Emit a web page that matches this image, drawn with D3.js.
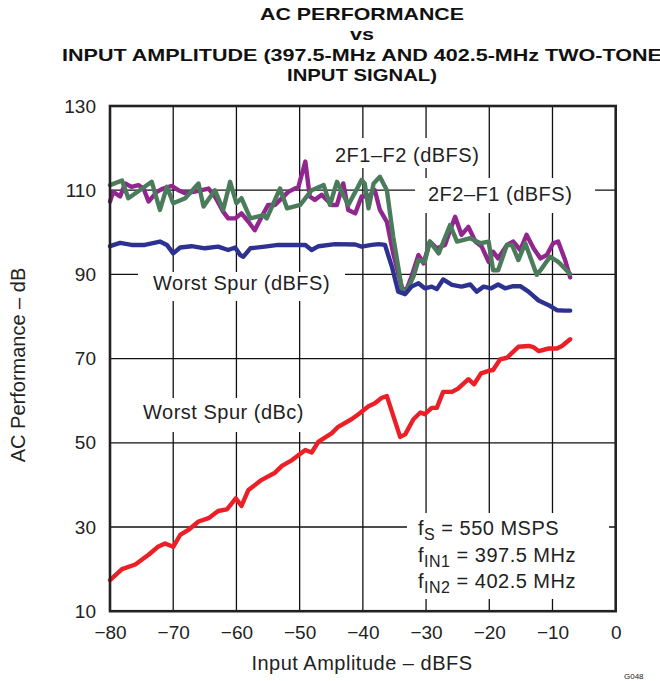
<!DOCTYPE html>
<html><head><meta charset="utf-8">
<script src="https://cdn.jsdelivr.net/npm/d3@7"></script>
<style>
body{margin:0;background:#fff;}
svg{display:block;font-family:"Liberation Sans",Arial,Helvetica,sans-serif;}
</style></head>
<body>
<svg id="c" width="660" height="681"></svg>
<script>
// ---- data ----
const xTicks = [-80,-70,-60,-50,-40,-30,-20,-10,0];
const yTicks = [10,30,50,70,90,110,130];

const spurDbcX = [-80,-78.1,-76,-73.9,-72.4,-71.3,-70,-68.9,-67.6,-66,-64.4,-62.9,-61.5,-60.1,-59.2,-58.1,-56,-53.9,-52.8,-51.2,-49.1,-48.1,-47,-44.9,-43.9,-41.8,-40.7,-39.1,-38.1,-37,-36.2,-34.1,-33.3,-32,-30.9,-30.2,-29.1,-28.3,-27.3,-25.9,-24.9,-23.3,-22.4,-21.3,-20.1,-19.4,-18.3,-17.2,-15.4,-13.8,-13.0,-12.2,-10.6,-9.3,-8.5,-7.2];
const spurDbcY = [17.4,20.0,21.1,23.4,25.3,26.1,25.3,28.1,29.3,31.3,32.1,33.8,34.2,36.8,35.0,38.8,41.2,42.9,44.5,45.9,48.3,47.7,50.3,52.3,53.8,55.6,56.8,58.7,59.4,60.7,61.1,51.4,52.0,55.6,57.2,56.8,58.3,58.3,62.1,62.1,62.9,65.1,63.9,66.5,67.1,67.3,69.8,70.2,72.8,73.0,72.7,71.8,72.4,72.4,73.0,74.6];

const spurDbfsX = [-80,-78.4,-76.6,-74.5,-72.1,-71,-70,-68.9,-67.1,-65,-62.9,-61.3,-60.2,-59.4,-58.9,-57.8,-55.5,-53.4,-51,-49.1,-48.1,-47,-44.4,-41.2,-40.2,-38.6,-37.5,-36.5,-35.4,-34.4,-33.3,-32.3,-31.2,-30.2,-29.1,-28.3,-27.3,-25.9,-24.4,-23.0,-22.0,-20.9,-19.7,-18.6,-17.5,-16.2,-15.1,-13.8,-12.2,-10.6,-9.3,-8,-7.2];
const spurDbfsY = [96.7,97.5,97.0,97.0,97.8,97.0,95.0,96.4,96.7,96.2,96.6,95.8,96.4,94.6,94.2,96.2,96.6,97.0,97.0,97.0,95.8,96.7,97.2,97.1,96.6,97.0,97.2,97.0,91.8,85.9,85.3,87.1,87.9,86.7,87.1,86.5,88.8,87.5,87.1,87.6,85.9,87.1,86.7,87.6,86.7,87.2,87.2,85.9,83.8,82.7,81.5,81.4,81.4];

const imd2f1X = [-80,-79.5,-78.4,-77.6,-76.6,-75.5,-74.7,-73.9,-72.6,-71.6,-70.2,-69.2,-68.1,-66.8,-65.5,-64.4,-63.4,-62.1,-61.3,-60.2,-59.2,-58.1,-57.1,-56,-55,-53.9,-52.8,-51.8,-50.2,-49.1,-48.4,-47.6,-46.5,-44.9,-44.1,-43.1,-42.3,-41.2,-40.2,-39.1,-38.1,-37.3,-36.2,-35.2,-33.8,-33.1,-32.3,-31.2,-30.4,-29.4,-28.3,-27,-26.2,-25.4,-24.4,-23.3,-22.2,-21.2,-20.1,-19.4,-18.6,-17.2,-16.2,-15.1,-14.1,-13,-11.9,-10.9,-9.9,-9.1,-8,-7.2];
const imd2f1Y = [107.3,109.6,108.5,111.6,110.8,111.2,110.4,107.3,109.6,110.4,111.0,110.0,109.3,109.6,110.0,110.4,108.5,104.9,103.3,103.3,104.5,102.5,100.5,103.7,106.5,106.5,108.1,109.6,110.8,116.8,108.5,107.7,108.9,106.5,106.5,111.6,105.3,104.5,108.5,108.5,110.0,105.3,102.5,95.0,86.7,86.3,89.5,94.6,92.6,97.8,96.2,97.0,100.5,103.7,99.4,101.3,97.8,96.6,93.0,95.4,93.8,97.0,97.8,95.8,99.4,96.2,93.8,94.6,97.4,97.8,93.4,89.3];

const imd2f2X = [-80,-78.1,-77.1,-75.3,-73.4,-72.1,-71,-70,-68.1,-66,-65.2,-63.4,-62.1,-61,-60,-59.2,-57.8,-55.7,-55.2,-53.1,-52,-49.9,-48.1,-46.2,-45.2,-44.1,-42.3,-40.2,-39.7,-39.1,-38.3,-37.3,-36.2,-35.2,-33.8,-33.1,-32,-31.2,-30.2,-29.4,-28,-26.2,-25.1,-23.0,-21.4,-20.1,-19.4,-18.6,-17.2,-16.4,-15.4,-14.3,-12.5,-11.7,-10.4,-9.1,-7.2];
const imd2f2Y = [111.2,112.3,108.1,110.0,112.0,105.3,110.8,106.9,108.1,111.6,106.1,110.0,105.3,112.0,106.9,108.1,103.3,104.1,103.3,110.4,105.7,106.5,110.0,111.2,106.5,112.0,106.5,112.4,111.6,105.7,111.6,113.2,110.0,99.0,86.3,85.9,89.5,93.4,93.0,97.8,95.0,101.7,97.8,98.6,97.4,97.8,91.0,91.0,97.0,97.0,93.4,97.4,89.9,91.4,94.2,93.0,90.1];

const titleLines = ["AC PERFORMANCE","vs","INPUT AMPLITUDE (397.5-MHz AND 402.5-MHz TWO-TONE","INPUT SIGNAL)"];

// ---- drawing ----
const svg = d3.select("#c");
const L = 110, R = 615.7, T = 106, B = 611.2;
const x = d3.scaleLinear().domain([-80,0]).range([L,R]);
const y = d3.scaleLinear().domain([10,130]).range([B,T]);

// title (one text block, four lines)
const titleY = [19.5, 39.5, 61, 80.5];
const titleW = [204, 24, 600, 150];
const title = svg.append("text").attr("text-anchor","middle")
  .attr("font-weight","bold").attr("font-size",17).attr("fill","#111");
titleLines.forEach((t,i)=>{
  title.append("tspan").attr("x",362).attr("y",titleY[i])
    .attr("textLength",titleW[i]).attr("lengthAdjust","spacingAndGlyphs").text(t);
});

// grid
const grid = svg.append("g").attr("stroke","#111").attr("stroke-width",1.3);
grid.selectAll("line.v").data(xTicks.slice(1,-1)).join("line")
  .attr("x1",d=>x(d)).attr("x2",d=>x(d)).attr("y1",T).attr("y2",B);
grid.selectAll("line.h").data(yTicks.slice(1,-1)).join("line")
  .attr("y1",d=>y(d)).attr("y2",d=>y(d)).attr("x1",L).attr("x2",R);

// label backgrounds (white knock-outs)
const boxes = [[138,272,345,301],[133,398,313,432],[328,138,486,168],[415,178,595,213],[407,513,609,599]];
svg.append("g").selectAll("rect").data(boxes).join("rect")
  .attr("x",d=>d[0]).attr("y",d=>d[1]).attr("width",d=>d[2]-d[0]).attr("height",d=>d[3]-d[1])
  .attr("fill","#fff");

// tick labels via d3 axes
const fmt = d=>d3.format("")(d);
const xa = svg.append("g").attr("transform",`translate(0,${B})`)
  .call(d3.axisBottom(x).tickValues(xTicks).tickSize(0).tickPadding(14).tickFormat(fmt));
const ya = svg.append("g").attr("transform",`translate(${L},0)`)
  .call(d3.axisLeft(y).tickValues(yTicks).tickSize(0).tickPadding(14).tickFormat(fmt));
[xa,ya].forEach(a=>{
  a.select(".domain").remove();
  a.selectAll("text").attr("font-size",19).attr("fill","#222").attr("font-family","'Liberation Sans',Arial,sans-serif");
});

svg.append("text").attr("x",362).attr("y",670).attr("text-anchor","middle")
  .attr("font-size",20).attr("letter-spacing",0.5).attr("fill","#222").text("Input Amplitude – dBFS");
svg.append("text").attr("transform","translate(25,365) rotate(-90)").attr("text-anchor","middle")
  .attr("font-size",20).attr("fill","#222").text("AC Performance – dB");

// series labels
const lab = [["2F1–F2 (dBFS)",335,162],["2F2–F1 (dBFS)",428,201],["Worst Spur (dBFS)",153,290],["Worst Spur (dBc)",143,419]];
svg.append("g").selectAll("text").data(lab).join("text")
  .attr("x",d=>d[1]).attr("y",d=>d[2]).attr("font-size",20).attr("letter-spacing",0.5)
  .attr("fill","#222").text(d=>d[0]);

// conditions
const cond = [["f","S"," = 550 MSPS",535],["f","IN1"," = 397.5 MHz",562],["f","IN2"," = 402.5 MHz",588]];
cond.forEach(c=>{
  const t = svg.append("text").attr("x",418).attr("y",c[3]).attr("font-size",20)
    .attr("letter-spacing",0.5).attr("fill","#222");
  t.append("tspan").text(c[0]);
  t.append("tspan").attr("dy",5).attr("font-size",16).text(c[1]);
  t.append("tspan").attr("dy",-5).text(c[2]);
});

// lines
const line = d3.line().x(d=>x(d[0])).y(d=>y(d[1]));
const series = [
  [d3.zip(imd2f1X, imd2f1Y), "#91268f"],
  [d3.zip(imd2f2X, imd2f2Y), "#4a7c5c"],
  [d3.zip(spurDbfsX, spurDbfsY), "#2c3192"],
  [d3.zip(spurDbcX, spurDbcY), "#ec1f27"]
];
svg.append("g").selectAll("path").data(series).join("path")
  .attr("d",d=>line(d[0])).attr("fill","none").attr("stroke",d=>d[1])
  .attr("stroke-width",4.4).attr("stroke-linejoin","round").attr("stroke-linecap","round");

// frame
svg.append("rect").attr("x",L).attr("y",T).attr("width",R-L).attr("height",B-T)
  .attr("fill","none").attr("stroke","#222").attr("stroke-width",2.6);

// figure code
svg.append("text").attr("x",624).attr("y",679).attr("font-size",8).attr("fill","#222").text("G048");
</script>
</body></html>
